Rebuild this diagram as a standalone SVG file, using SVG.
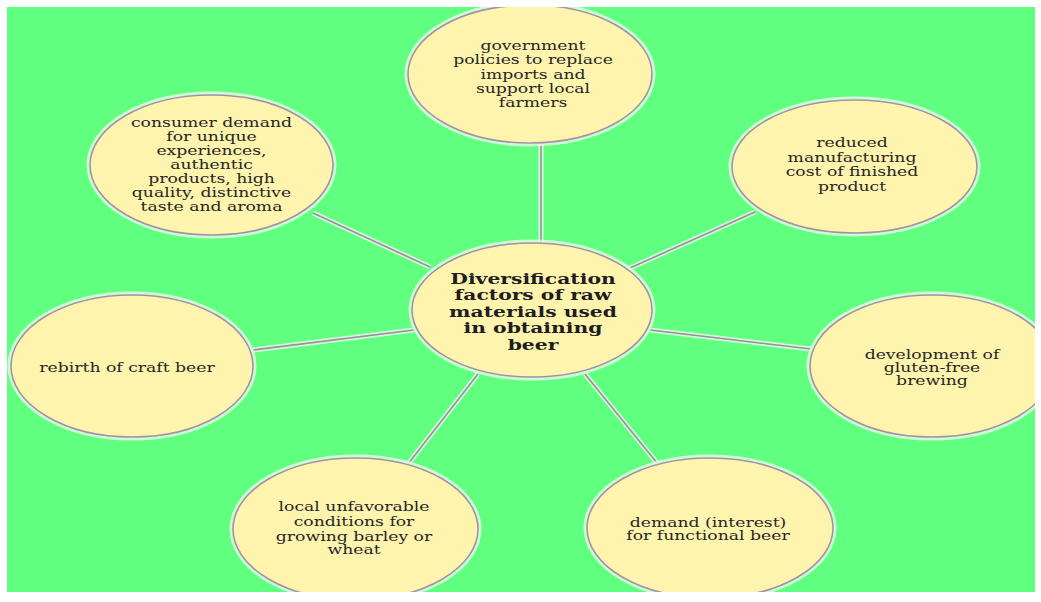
<svg xmlns="http://www.w3.org/2000/svg" width="1041" height="602" viewBox="0 0 1041 602">
<style>
.bg{fill:#60FF80}
.halo{fill:none;stroke:#F2FBF0;stroke-width:7;opacity:0.75}
.node{fill:#FFF4AE;stroke:#A392A2;stroke-width:1.6}
.t{font-family:"DejaVu Serif","Liberation Serif",serif;font-size:12px;fill:#262626;text-anchor:middle}
.tc{font-family:"DejaVu Serif","Liberation Serif",serif;font-size:14.5px;font-weight:bold;fill:#1E1E22;text-anchor:middle}
.lh{stroke:#EEF8EE;stroke-width:5;opacity:0.8;fill:none}
.ln{stroke:#9C8E9C;stroke-width:1.6;fill:none}
</style>
<rect x="0" y="0" width="1041" height="602" fill="#FFFFFF"/>
<rect class="bg" x="7" y="7" width="1028" height="585"/>
<g id="connectors">
<line class="lh" x1="541" y1="142" x2="541" y2="244"/>
<line class="ln" x1="541" y1="142" x2="541" y2="244"/>
<line class="lh" x1="313" y1="213" x2="430" y2="267"/>
<line class="ln" x1="313" y1="213" x2="430" y2="267"/>
<line class="lh" x1="630" y1="268" x2="755" y2="212"/>
<line class="ln" x1="630" y1="268" x2="755" y2="212"/>
<line class="lh" x1="253" y1="350" x2="414" y2="330"/>
<line class="ln" x1="253" y1="350" x2="414" y2="330"/>
<line class="lh" x1="650" y1="330" x2="811" y2="349"/>
<line class="ln" x1="650" y1="330" x2="811" y2="349"/>
<line class="lh" x1="478" y1="374" x2="408" y2="464"/>
<line class="ln" x1="478" y1="374" x2="408" y2="464"/>
<line class="lh" x1="585" y1="374" x2="657" y2="463"/>
<line class="ln" x1="585" y1="374" x2="657" y2="463"/>
</g>
<g id="n-government">
<ellipse class="halo" cx="530" cy="74" rx="122" ry="69"/>
<ellipse class="node" cx="530" cy="74" rx="122" ry="69"/>
<g transform="translate(533 0) scale(1.435 1)">
<text class="t"><tspan x="0" y="50">government</tspan><tspan x="0" y="64.5">policies to replace</tspan><tspan x="0" y="79">imports and</tspan><tspan x="0" y="93.5">support local</tspan><tspan x="0" y="107">farmers</tspan></text>
</g>
</g>
<g id="n-consumer">
<ellipse class="halo" cx="211.5" cy="165" rx="121.5" ry="70"/>
<ellipse class="node" cx="211.5" cy="165" rx="121.5" ry="70"/>
<g transform="translate(211.5 0) scale(1.435 1)">
<text class="t"><tspan x="0" y="127.5">consumer demand</tspan><tspan x="0" y="141.5">for unique</tspan><tspan x="0" y="155.5">experiences,</tspan><tspan x="0" y="169">authentic</tspan><tspan x="0" y="183">products, high</tspan><tspan x="0" y="197">quality, distinctive</tspan><tspan x="0" y="211">taste and aroma</tspan></text>
</g>
</g>
<g id="n-reduced">
<ellipse class="halo" cx="854.5" cy="166.5" rx="122.5" ry="66.5"/>
<ellipse class="node" cx="854.5" cy="166.5" rx="122.5" ry="66.5"/>
<g transform="translate(852 0) scale(1.435 1)">
<text class="t"><tspan x="0" y="147">reduced</tspan><tspan x="0" y="162">manufacturing</tspan><tspan x="0" y="176.5">cost of finished</tspan><tspan x="0" y="191">product</tspan></text>
</g>
</g>
<g id="n-rebirth">
<ellipse class="halo" cx="132" cy="366" rx="121" ry="71"/>
<ellipse class="node" cx="132" cy="366" rx="121" ry="71"/>
<g transform="translate(127 0) scale(1.435 1)">
<text class="t"><tspan x="0" y="372">rebirth of craft beer</tspan></text>
</g>
</g>
<g id="n-gluten">
<ellipse class="halo" cx="932" cy="366" rx="122" ry="71"/>
<ellipse class="node" cx="932" cy="366" rx="122" ry="71"/>
<g transform="translate(932 0) scale(1.435 1)">
<text class="t"><tspan x="0" y="359">development of</tspan><tspan x="0" y="372">gluten-free</tspan><tspan x="0" y="385">brewing</tspan></text>
</g>
</g>
<g id="n-local">
<ellipse class="halo" cx="355.5" cy="529" rx="122.5" ry="71"/>
<ellipse class="node" cx="355.5" cy="529" rx="122.5" ry="71"/>
<g transform="translate(354 0) scale(1.435 1)">
<text class="t"><tspan x="0" y="511">local unfavorable</tspan><tspan x="0" y="526">conditions for</tspan><tspan x="0" y="541">growing barley or</tspan><tspan x="0" y="554">wheat</tspan></text>
</g>
</g>
<g id="n-functional">
<ellipse class="halo" cx="710" cy="528" rx="123" ry="70"/>
<ellipse class="node" cx="710" cy="528" rx="123" ry="70"/>
<g transform="translate(708 0) scale(1.435 1)">
<text class="t"><tspan x="0" y="527">demand (interest)</tspan><tspan x="0" y="540">for functional beer</tspan></text>
</g>
</g>
<g id="n-center">
<ellipse class="halo" cx="532" cy="310" rx="120" ry="67"/>
<ellipse class="node" cx="532" cy="310" rx="120" ry="67"/>
<g transform="translate(533 0) scale(1.4 1)">
<text class="tc"><tspan x="0" y="284">Diversification</tspan><tspan x="0" y="300.5">factors of raw</tspan><tspan x="0" y="317">materials used</tspan><tspan x="0" y="333.5">in obtaining</tspan><tspan x="0" y="350">beer</tspan></text>
</g>
</g>
<path d="M0 0H1041V602H0Z M7 7V592H1035V7Z" fill="#FFFFFF" fill-rule="evenodd"/>
</svg>
